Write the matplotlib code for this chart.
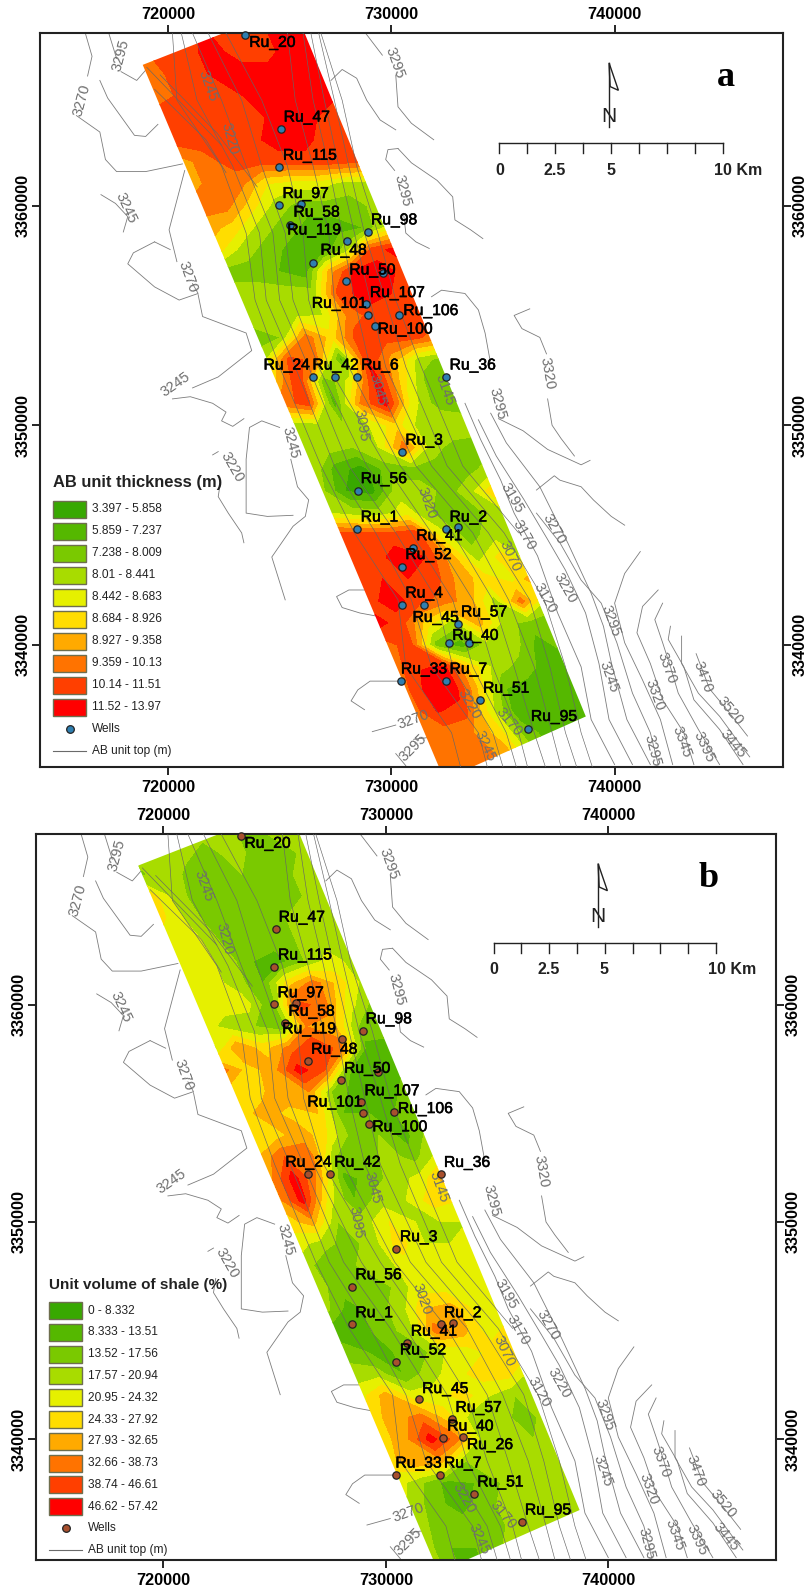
import numpy as np
import matplotlib
matplotlib.use('Agg')
from matplotlib import pyplot as plt
from matplotlib import patheffects as pe
from matplotlib.patches import Polygon, Rectangle
from matplotlib.lines import Line2D
from matplotlib.transforms import Affine2D

plt.rcParams['font.family'] = ['Liberation Sans', 'DejaVu Sans']

W, H = 806, 1591

# map coordinates in km
strip = [(718.87, 3366.41), (722.6, 3367.9), (726.1, 3367.9), (738.71, 3336.74),
         (733.53, 3334.4), (732.15, 3334.4)]

# class: one row per km of northing, 8 columns across the strip
rows_y = list(range(3368, 3333, -1))
thickness = [
    [8, 8, 8, 8.6, 8, 8, 9, 9],
    [7, 8, 8, 9, 8, 8, 9, 9],
    [7, 7.6, 8, 9, 9, 9, 9, 9],
    [7, 7.6, 8, 8, 9, 9, 9, 8.6],
    [8, 8, 8, 8, 8.5, 9, 8.5, 8],
    [8, 8, 8, 8, 9, 9, 8, 8],
    [6, 7, 8, 8, 8, 8, 8, 7.5],
    [6, 7, 6.8, 4.5, 4, 4, 3, 3],
    [7, 7, 5, 3, 2, 2, 2, 3],
    [6, 5, 3, 2, 1, 1, 1.5, 4],
    [5, 3, 2, 1, 0.5, 3, 8, 9],
    [2, 2, 1.5, 0.8, 6, 9, 9, 8],
    [3, 3, 3, 3, 8, 9, 8.5, 8],
    [3, 3, 3.3, 3.5, 6.8, 8, 8, 8],
    [2, 2.5, 7, 5, 8, 8, 8, 7],
    [3, 8, 7, 1, 8.5, 6, 3, 2],
    [5, 8.5, 1.5, 4, 9, 5, 2, 2],
    [7, 8, 1, 6.5, 9, 4, 2, 2],
    [3, 3, 2.5, 3.5, 5, 3, 3.5, 3],
    [3, 3, 2.5, 3.5, 7, 3, 2, 2],
    [3.5, 1, 0, 2, 2, 2, 2, 3],
    [3, 0.5, 0, 3, 3, 2, 3.5, 6],
    [3.5, 3, 3, 4, 2.5, 2, 2.5, 3.5],
    [8, 8, 8, 8.5, 4, 2, 3, 3],
    [8, 8, 9, 8.5, 6, 3, 5, 3],
    [8, 8.5, 8.5, 8, 6, 5, 4, 7],
    [8, 9, 8, 7, 6, 3, 7, 3],
    [9, 8, 5, 3, 6, 3, 2, 2],
    [7, 8, 2, 1, 3, 3, 1, 2],
    [7, 8.4, 8.6, 5, 3, 2, 1, 1],
    [7, 9, 9, 5, 1.5, 1, 1, 1],
    [7, 8.6, 8, 4, 1, 1, 1, 1],
    [7, 7, 6.5, 5, 2, 1, 1, 1],
    [6.8, 7, 7, 6, 3, 1, 1, 1],
    [6.8, 7, 7, 6, 3, 1, 1, 1],
]
shale = [
    [4, 3, 3, 3, 3, 2, 3, 3],
    [3, 3, 3, 2, 3, 2, 2, 3],
    [2, 3.5, 2, 2, 2.5, 2, 2.5, 3],
    [5.5, 3, 2, 2, 2, 2, 2.5, 3],
    [5, 3.5, 2, 2, 2, 2.5, 3, 3],
    [4, 4, 2.5, 2, 2, 2.5, 3, 3.5],
    [4, 4, 3, 1.5, 1, 2.5, 4, 3],
    [4, 4, 3, 1.5, 5, 7, 5, 3],
    [4, 4, 4, 1.5, 8, 7, 4, 2],
    [4, 3, 2.5, 1.5, 6.5, 6, 2.5, 2],
    [3, 6.5, 5, 7, 8.5, 7, 1, 1],
    [7, 5, 6, 9, 7.5, 1.5, 1, 1.5],
    [5, 5, 6.5, 6.5, 2, 1, 1, 2],
    [5, 6, 5, 5.5, 1.5, 1.5, 1.5, 2.5],
    [4.5, 5, 6.2, 4.5, 2, 2.5, 1, 3],
    [5.5, 7.5, 7, 2.5, 1.5, 3, 2, 4],
    [6, 9, 6, 1, 2, 3, 4, 6.5],
    [6, 9, 4, 1.5, 3, 3.5, 5, 4.5],
    [5, 6, 2.5, 3, 4.5, 3.5, 3.5, 3.5],
    [4, 3, 2, 3, 5, 3.5, 3.5, 4],
    [3, 1.5, 2.5, 3, 4, 4, 4, 4],
    [3, 2, 2, 2.5, 4, 4, 4, 4],
    [3, 1, 2, 3, 5.5, 6, 4, 4],
    [1, 1, 2, 3, 7, 6, 4, 5],
    [2, 1.5, 1.5, 2, 3.5, 4, 5, 5],
    [3, 3, 1.5, 3, 4, 5, 5, 3],
    [4, 6, 4, 4, 5, 3.5, 2.5, 3],
    [5, 6, 7, 5, 3, 3, 2, 3],
    [5, 6, 9, 7, 3, 3, 2.5, 3],
    [5, 6.5, 6, 2.5, 3, 2.5, 3, 3],
    [4, 2.5, 1, 1.5, 2.5, 3, 3, 3],
    [3.5, 2, 1, 2, 3, 3, 3, 3],
    [3, 2, 2, 2, 3, 3, 3, 3],
    [3, 1.5, 1.5, 2.5, 3, 3, 3, 3],
    [3, 1.5, 1.5, 2.5, 3, 3, 3, 3],
]

class_colors = ['#38a800', '#55b800', '#7ac900', '#a8dc00', '#e6f000',
                '#ffdd00', '#ffaa00', '#ff7300', '#ff3f00', '#ff0000']
thick_labels = ['3.397 - 5.858', '5.859 - 7.237', '7.238 - 8.009', '8.01 - 8.441', '8.442 - 8.683',
                '8.684 - 8.926', '8.927 - 9.358', '9.359 - 10.13', '10.14 - 11.51', '11.52 - 13.97']
shale_labels = ['0 - 8.332', '8.333 - 13.51', '13.52 - 17.56', '17.57 - 20.94', '20.95 - 24.32',
                '24.33 - 27.92', '27.93 - 32.65', '32.66 - 38.73', '38.74 - 46.61', '46.62 - 57.42']

well_x = [723.47, 725.04, 724.97, 724.97, 725.96, 725.48, 728.01, 728.95, 726.49, 727.99, 729.64,
          728.88, 728.95, 730.36, 729.25, 726.49, 727.48, 732.47, 730.47, 728.49, 728.47, 732.47,
          733.0, 730.95, 730.47, 731.48, 732.98, 732.57, 733.49, 730.45, 732.45, 733.97, 736.11]
well_y = [3367.78, 3363.49, 3361.76, 3360.02, 3360.08, 3359.14, 3358.41, 3358.79, 3357.4, 3356.55, 3356.92,
          3355.52, 3355.02, 3355.04, 3354.53, 3352.21, 3352.21, 3352.21, 3348.76, 3347.02, 3345.29, 3345.29,
          3345.35, 3344.43, 3343.56, 3341.83, 3340.95, 3340.07, 3340.08, 3338.35, 3338.35, 3337.47, 3336.18]
# wells only on the thickness map
extra_x = [728.47, 730.47]
extra_y = [3352.21, 3341.83]

labels_a = [('Ru_20', 723.64, 3367.43), ('Ru_47', 725.18, 3364.03), ('Ru_115', 725.15, 3362.29),
            ('Ru_97', 725.13, 3360.55), ('Ru_58', 725.62, 3359.7), ('Ru_119', 725.34, 3358.89),
            ('Ru_98', 729.09, 3359.35), ('Ru_48', 726.83, 3357.97), ('Ru_50', 728.12, 3357.07),
            ('Ru_107', 729.04, 3356.04), ('Ru_101', 726.44, 3355.55), ('Ru_106', 730.54, 3355.22),
            ('Ru_100', 729.39, 3354.38), ('Ru_24', 724.28, 3352.74), ('Ru_42', 726.47, 3352.74),
            ('Ru_6', 728.65, 3352.74), ('Ru_36', 732.61, 3352.74), ('Ru_3', 730.63, 3349.32),
            ('Ru_56', 728.63, 3347.57), ('Ru_1', 728.63, 3345.82), ('Ru_2', 732.61, 3345.82),
            ('Ru_41', 731.12, 3344.97), ('Ru_52', 730.63, 3344.11), ('Ru_4', 730.63, 3342.36),
            ('Ru_45', 730.95, 3341.25), ('Ru_57', 733.12, 3341.5), ('Ru_40', 732.73, 3340.43),
            ('Ru_33', 730.43, 3338.9), ('Ru_7', 732.61, 3338.9), ('Ru_51', 734.11, 3338.03),
            ('Ru_95', 736.25, 3336.74)]
labels_b = [('Ru_20', 723.64, 3367.43), ('Ru_47', 725.18, 3364.03), ('Ru_115', 725.15, 3362.29),
            ('Ru_97', 725.13, 3360.55), ('Ru_58', 725.62, 3359.7), ('Ru_119', 725.34, 3358.89),
            ('Ru_98', 729.09, 3359.35), ('Ru_48', 726.64, 3357.95), ('Ru_50', 728.12, 3357.07),
            ('Ru_107', 729.04, 3356.04), ('Ru_101', 726.47, 3355.52), ('Ru_106', 730.54, 3355.22),
            ('Ru_100', 729.39, 3354.38), ('Ru_24', 725.48, 3352.75), ('Ru_42', 727.68, 3352.75),
            ('Ru_36', 732.61, 3352.74), ('Ru_3', 730.63, 3349.32),
            ('Ru_56', 728.63, 3347.57), ('Ru_1', 728.63, 3345.82), ('Ru_2', 732.61, 3345.82),
            ('Ru_41', 731.12, 3344.97), ('Ru_52', 730.63, 3344.11), ('Ru_45', 731.63, 3342.33),
            ('Ru_57', 733.13, 3341.46), ('Ru_40', 732.76, 3340.6), ('Ru_26', 733.64, 3339.75),
            ('Ru_33', 730.43, 3338.9), ('Ru_7', 732.61, 3338.9), ('Ru_51', 734.11, 3338.03),
            ('Ru_95', 736.25, 3336.74)]

contour_labels = [('3295', 717.9, 3366.86, 75), ('3295', 730.15, 3366.5, -70), ('3270', 716.15, 3364.8, 75),
                  ('3245', 721.8, 3365.45, -70), ('3220', 722.75, 3363.05, -75), ('3295', 730.5, 3360.7, -75),
                  ('3245', 718.1, 3359.9, -65), ('3270', 720.9, 3356.75, -70), ('3245', 720.35, 3351.85, 35),
                  ('3145', 732.4, 3351.6, -70), ('3045', 729.4, 3351.6, -75), ('3295', 734.75, 3351.0, -75),
                  ('3320', 737.0, 3352.35, -80), ('3095', 728.65, 3350.0, -80), ('3245', 725.5, 3349.2, -75),
                  ('3220', 722.85, 3348.1, -60), ('3020', 731.6, 3346.45, -70), ('3195', 735.4, 3346.7, -60),
                  ('3170', 735.95, 3345.0, -60), ('3270', 737.3, 3345.25, -60), ('3070', 735.3, 3344.05, -65),
                  ('3120', 736.9, 3342.15, -60), ('3220', 737.8, 3342.6, -60), ('3295', 739.85, 3341.1, -70),
                  ('3245', 739.75, 3338.55, -70), ('3370', 742.35, 3338.95, -70), ('3320', 741.8, 3337.7, -70),
                  ('3470', 743.95, 3338.55, -70), ('3520', 745.15, 3337.0, -50), ('3345', 743.0, 3335.6, -70),
                  ('3395', 744.0, 3335.35, -65), ('3445', 745.3, 3335.5, -50), ('3295', 741.7, 3335.2, -75),
                  ('3270', 731.0, 3336.6, 20), ('3295', 731.0, 3335.3, 45), ('3220', 733.5, 3337.3, -60),
                  ('3170', 735.25, 3336.5, -50), ('3245', 734.2, 3335.4, -65)]

outer_lines = [
    [(716.3, 3367.85), (716.6, 3366.8), (716.4, 3365.9)],
    [(715.9, 3364.1), (716.95, 3363.35), (717.2, 3362.1), (717.7, 3361.55), (719.0, 3361.55), (720.65, 3361.9)],
    [(717.35, 3367.85), (717.7, 3366.7)],
    [(717.9, 3366.1), (718.6, 3365.7), (719.2, 3366.4)],
    [(716.95, 3365.7), (717.3, 3364.9), (718.5, 3363.2), (719.0, 3363.15), (719.55, 3363.7)],
    [(717.0, 3360.5), (717.65, 3360.1), (718.2, 3359.5), (718.0, 3358.8)],
    [(719.4, 3358.35), (718.45, 3357.85), (718.2, 3357.35), (719.4, 3356.3), (720.5, 3355.7), (721.35, 3356.0), (721.1, 3356.45)],
    [(720.4, 3357.45), (720.05, 3358.9), (720.4, 3360.25), (720.75, 3361.6)],
    [(719.4, 3358.35), (720.1, 3358.0)],
    [(721.35, 3355.95), (721.55, 3354.95), (723.5, 3354.2), (723.75, 3353.4), (722.25, 3352.2), (721.1, 3351.7)],
    [(720.2, 3351.2), (721.0, 3351.3), (722.0, 3351.0), (722.6, 3350.6), (722.4, 3350.2), (722.9, 3349.95), (723.4, 3350.3)],
    [(725.0, 3349.9), (724.2, 3350.2), (723.65, 3349.9), (723.5, 3348.45), (723.5, 3347.2), (723.5, 3346.0), (724.45, 3345.85), (725.6, 3345.9)],
    [(722.0, 3348.65), (722.25, 3348.8)],
    [(722.35, 3347.4), (722.25, 3346.75), (722.7, 3346.0), (723.3, 3345.1), (723.4, 3344.65)],
    [(725.5, 3348.45), (725.8, 3347.2), (726.3, 3346.6), (726.15, 3345.85), (725.6, 3345.4), (724.65, 3344.0), (725.25, 3342.05)],
    [(729.05, 3342.5), (728.1, 3342.5), (727.55, 3342.2), (727.8, 3341.7), (728.6, 3341.45), (729.4, 3341.3)],
    [(730.4, 3338.35), (729.05, 3338.35), (728.5, 3337.95), (728.2, 3337.45), (728.8, 3337.05)],
    [(729.15, 3336.05), (730.2, 3336.35)],
    [(730.65, 3334.5), (730.2, 3335.05)],
    [(731.0, 3335.7), (731.8, 3335.8)],
    [(728.85, 3367.85), (729.6, 3366.85)],
    [(730.2, 3365.95), (730.3, 3364.5), (730.9, 3363.75), (731.9, 3363.0)],
    [(727.3, 3365.7), (727.8, 3366.2), (728.45, 3365.8), (728.9, 3364.8), (729.5, 3363.9), (730.2, 3363.45)],
    [(730.3, 3362.6), (729.85, 3362.55), (729.75, 3362.1), (730.15, 3361.6)],
    [(730.55, 3359.65), (730.65, 3358.75), (731.1, 3358.35), (731.7, 3358.05)],
    [(730.3, 3362.6), (730.9, 3361.95), (732.05, 3361.15), (732.75, 3360.4), (732.85, 3359.35), (733.55, 3358.9), (734.1, 3358.5)],
    [(731.8, 3355.85), (732.25, 3356.15), (733.3, 3356.0), (733.9, 3355.25), (734.2, 3354.2), (734.45, 3352.8)],
    [(734.8, 3350.3), (735.9, 3349.75), (737.0, 3348.9), (738.5, 3348.2), (738.9, 3348.4)],
    [(736.2, 3355.3), (735.5, 3355.0), (735.85, 3354.4), (736.65, 3354.0), (736.95, 3353.25)],
    [(737.0, 3351.2), (737.2, 3350.0), (737.6, 3349.4), (738.2, 3348.6)],
    [(736.5, 3347.05), (737.3, 3347.7), (737.55, 3347.5), (738.5, 3347.2), (739.05, 3346.6), (739.85, 3345.85), (740.45, 3345.45)],
    [(733.3, 3351.0), (734.0, 3349.35), (734.9, 3347.5), (735.5, 3346.0), (736.55, 3344.05), (737.45, 3341.45), (738.5, 3339.0), (738.95, 3336.6), (740.0, 3334.55)],
    [(733.9, 3350.25), (734.7, 3348.6), (735.95, 3346.6), (737.0, 3344.8), (737.8, 3343.4), (738.7, 3341.45), (739.3, 3339.15), (739.75, 3336.6), (740.8, 3334.55)],
    [(734.45, 3350.55), (735.15, 3349.2), (736.65, 3347.2), (737.9, 3344.65), (738.95, 3342.35), (739.5, 3340.85), (739.85, 3339.2), (740.55, 3336.6), (741.6, 3334.55)],
    [(736.5, 3346.0), (737.55, 3344.65), (738.5, 3342.95), (739.4, 3341.9), (740.1, 3340.1), (740.8, 3337.8), (741.6, 3336.0), (741.95, 3334.55)],
    [(741.15, 3344.25), (740.45, 3343.25), (740.0, 3341.9), (740.45, 3340.1), (741.25, 3338.4), (742.05, 3336.6), (742.6, 3334.55)],
    [(741.95, 3342.5), (741.25, 3341.75), (741.0, 3340.55), (741.6, 3339.15), (742.15, 3337.5), (743.1, 3336.0), (743.55, 3334.55)],
    [(742.15, 3341.9), (741.8, 3341.15), (742.15, 3340.1), (742.5, 3339.0), (742.85, 3337.8), (743.75, 3336.15), (744.7, 3334.55)],
    [(742.5, 3340.85), (742.4, 3340.25), (743.1, 3339.0), (743.55, 3337.5), (744.7, 3336.15), (745.75, 3334.55)],
    [(743.0, 3340.4), (743.0, 3339.15), (743.75, 3337.8), (744.7, 3336.75), (745.6, 3335.5), (746.05, 3334.9)],
    [(743.65, 3339.6), (744.25, 3338.0), (745.15, 3336.9), (745.95, 3335.85)],
]
inner_y = [3367.85, 3364.8, 3361.8, 3358.75, 3355.7, 3352.65, 3348.15, 3345.1, 3342.05, 3339.0, 3336.0, 3334.45]
inner_x = [
    [720.2, 720.4, 722.4, 723.5, 723.9, 725.0, 726.85, 728.35, 730.3, 730.65, 732.7, 733.1],
    [720.6, 721.3, 722.9, 724.1, 724.4, 725.7, 727.45, 729.3, 730.9, 731.8, 733.9, 734.3],
    [721.1, 722.4, 723.5, 724.7, 725.0, 726.3, 728.1, 730.2, 732.05, 732.75, 734.55, 735.0],
    [721.8, 723.3, 724.2, 725.25, 725.6, 726.75, 728.9, 730.9, 732.75, 733.65, 735.15, 735.6],
    [722.6, 724.2, 725.35, 726.05, 726.3, 727.2, 729.75, 731.8, 733.65, 734.55, 735.7, 736.1],
    [725.35, 725.7, 726.5, 727.2, 727.45, 728.1, 730.4, 732.75, 734.55, 735.5, 736.4, 736.9],
    [726.05, 726.5, 727.2, 727.8, 728.35, 729.05, 731.1, 733.65, 735.25, 736.4, 737.2, 737.6],
    [726.4, 727.0, 727.65, 728.35, 729.05, 729.75, 731.8, 734.35, 736.2, 737.1, 737.8, 738.3],
    [726.75, 727.45, 728.1, 728.8, 729.75, 730.65, 732.5, 735.05, 736.85, 737.8, 738.5, 739.0],
    [726.85, 727.8, 728.45, 729.4, 730.2, 731.35, 733.2, 735.7],
]
top_lines = [
    [(719.05, 3366.3), (722.4, 3362.75)],
    [(719.4, 3365.3), (721.7, 3363.0), (722.6, 3361.5)],
    [(719.65, 3365.95), (722.2, 3363.3), (724.0, 3360.85)],
]

north_a = 739.75
north_b = 739.54
scale_ticks = [734.84, 736.09, 737.34, 738.59, 739.84, 741.09, 742.34, 743.59, 744.84]
scale_text = [('0', 734.84), ('2.5', 737.33), ('5', 739.82), ('10 Km', 745.55)]
x_ticks = [720000, 730000, 740000]
y_ticks = [3340000, 3350000, 3360000]

pix = Affine2D().scale(1, -1).translate(0, H)
fig = plt.figure(figsize=(W / 100, H / 100), dpi=100)


def panel(box, table, well_color, labels, wells_x, wells_y, north_x, letter, letter_x,
          title, title_size, texts, legend_y):
    left, top, right, bottom = box
    ax = fig.add_axes([left / W, 1 - bottom / H, (right - left) / W, (bottom - top) / H])
    ax.set_xlim(714270, 747540)
    ax.set_ylim(3334440, 3367860)

    # outer isolines go under the grid
    for line in outer_lines:
        xs = [p[0] * 1000 for p in line]
        ys = [p[1] * 1000 for p in line]
        ax.plot(xs, ys, color='#7c7c7c', lw=0.6, zorder=1)

    rows = np.array(rows_y, dtype=float)
    cols = np.linspace(-0.02, 1.04, 8)
    left_edge = 718.87 + (3366.41 - rows) * 0.4154
    X = (left_edge[:, None] + cols[None, :] * 7.65) * 1000
    Y = np.repeat(rows[:, None], 8, axis=1) * 1000
    levels = np.arange(-0.5, 10.5, 1)
    cs = ax.contourf(X, Y, np.array(table), levels=levels, colors=class_colors, zorder=2)
    clip = Polygon([(p[0] * 1000, p[1] * 1000) for p in strip], closed=True, fc='none', ec='none',
                   transform=ax.transData)
    ax.add_patch(clip)
    cs.set_clip_path(clip)

    for xs in inner_x:
        ax.plot(np.array(xs) * 1000, np.array(inner_y[:len(xs)]) * 1000, color='#666666', lw=0.45, zorder=3)
    for line in top_lines:
        ax.plot([p[0] * 1000 for p in line], [p[1] * 1000 for p in line], color='#666666', lw=0.45, zorder=3)

    for txt, x, y, rot in contour_labels:
        ax.text(x * 1000, y * 1000, txt, rotation=rot, color='#6e6e6e', fontsize=10.5,
                ha='center', va='center', rotation_mode='anchor', zorder=4)

    ax.scatter(np.array(wells_x) * 1000, np.array(wells_y) * 1000, s=28, c=well_color,
               edgecolors='#222222', linewidths=0.9, zorder=5, clip_on=False)
    for name, x, y in labels:
        ax.text(x * 1000, y * 1000, name, fontsize=11.3, color='black', ha='left', va='center', zorder=6,
                path_effects=[pe.withStroke(linewidth=0.4, foreground='black')])

    # north arrow and scale bar
    ax.plot([north_x * 1000, north_x * 1000], [3366500, 3363570], color='#222222', lw=1, zorder=4)
    ax.add_patch(Polygon([(north_x * 1000, 3366500), ((north_x + 0.42) * 1000, 3365250),
                          ((north_x + 0.05) * 1000, 3365420)], closed=True, fc='white', ec='#222222', lw=1))
    ax.text(north_x * 1000, 3364050, 'N', fontsize=15, ha='center', va='center', color='#222222')
    ax.plot([scale_ticks[0] * 1000, scale_ticks[-1] * 1000], [3362840, 3362840], color='#222222', lw=1)
    for t in scale_ticks:
        ax.plot([t * 1000, t * 1000], [3362840, 3362380], color='#222222', lw=1)
    for txt, x in scale_text:
        ax.text(x * 1000, 3361620, txt, fontsize=11.5, fontweight='bold', ha='center', va='center', color='#222222')
    ax.text(letter_x * 1000, 3365820, letter, family='Liberation Serif', fontsize=26, fontweight='bold',
            ha='center', va='center')

    ax.set_xticks(x_ticks)
    ax.set_xticklabels([str(v) for v in x_ticks], fontsize=11.7, fontweight='bold')
    ax.set_yticks(y_ticks)
    ax.set_yticklabels([str(v) for v in y_ticks], fontsize=11.7, fontweight='bold', rotation=90, va='center')
    ax.tick_params(axis='x', top=True, length=6, width=1.2, pad=3.5)
    ax.tick_params(axis='y', right=True, labelright=True, length=6, width=1.2, pad=1)
    for t in ax.yaxis.get_major_ticks():
        t.label2.set_rotation(90)
        t.label2.set_va('center')
    # top labels sit a little closer than tick labels with the same pad
    for v in x_ticks:
        ax.annotate(str(v), xy=(v, 1), xycoords=('data', 'axes fraction'), xytext=(0, 13),
                    textcoords='offset points', ha='center', va='center', fontsize=11.7, fontweight='bold')
    for s in ax.spines.values():
        s.set_linewidth(1.5)
        s.set_color('#222222')

    # legend, placed on the sheet
    lx = left + 13
    fig.text(lx / W, 1 - legend_y / H, title, fontsize=title_size, fontweight='bold', color='#222222', va='center')
    first = legend_y + 26 * (bottom - top) / 734
    step = 22 * (bottom - top) / 734
    for i in range(10):
        y = first + i * step
        fig.add_artist(Rectangle((lx, y - 8.5), 33, 17, transform=pix, fc=class_colors[i], ec='#6e6e4e', lw=1))
        fig.text((lx + 39) / W, 1 - y / H, texts[i], fontsize=8.6, color='#222222', va='center')
    y = first + 10 * step
    fig.add_artist(Line2D([lx + 17], [y], transform=pix, marker='o', ms=5.5, mfc=well_color, mec='#222222', mew=0.9, ls=''))
    fig.text((lx + 39) / W, 1 - y / H, 'Wells', fontsize=8.6, color='#222222', va='center')
    y = first + 11 * step
    fig.add_artist(Line2D([lx, lx + 33], [y, y], transform=pix, color='#6a6a6a', lw=0.8))
    fig.text((lx + 39) / W, 1 - y / H, 'AB unit top (m)', fontsize=8.6, color='#222222', va='center')


panel((40, 33, 783, 767), thickness, '#2f7fb0', labels_a, well_x + extra_x, well_y + extra_y, north_a,
      'a', 745.0, 'AB unit thickness (m)', 11.9, thick_labels, 483)
panel((36, 834, 776, 1560), shale, '#a8502e', labels_b, well_x, well_y, north_b,
      'b', 744.5, 'Unit volume of shale (%)', 11.0, shale_labels, 1285)

plt.savefig('out.png', dpi=100)
